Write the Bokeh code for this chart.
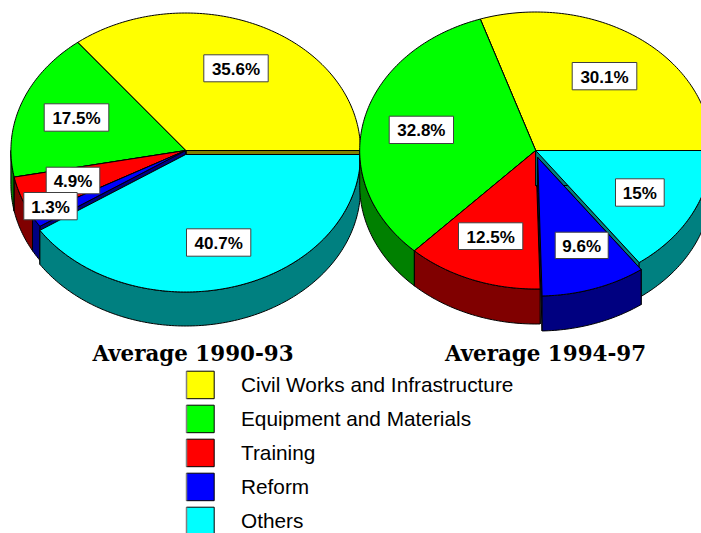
import numpy as np
from bokeh.plotting import figure
from bokeh.core.properties import value
from bokeh.embed import file_html
from bokeh.resources import INLINE

categories = ["Civil Works and Infrastructure", "Equipment and Materials", "Training", "Reform", "Others"]
top_colors = ["#FFFF00", "#00FF00", "#FF0000", "#0000FF", "#00FFFF"]
wall_colors = ["#808000", "#008000", "#800000", "#000080", "#008080"]

values_1990_93 = [35.6, 17.5, 4.9, 1.3, 40.7]
values_1994_97 = [30.1, 32.8, 12.5, 9.6, 15.0]
labels_1990_93 = ["35.6%", "17.5%", "4.9%", "1.3%", "40.7%"]
labels_1994_97 = ["30.1%", "32.8%", "12.5%", "9.6%", "15%"]
title_1990_93 = "Average 1990-93"
title_1994_97 = "Average 1994-97"

# Layout (page pixels: data units equal page pixels)
W, H = 701, 533
PIE_1 = dict(cx=185.2, cy=150.0, rx=174.8, ry=137.5, depth=34.0,
             explode={4: (0.0, 4.0)}, order=[0, 1, 2, 3, 4])
PIE_2 = dict(cx=535.2, cy=150.0, rx=176.0, ry=138.5, depth=35.0,
             explode={3: (2.0, 7.0)}, order=[0, 1, 2, 4, 3])
BOXES_1 = [(203.3, 267.7, 54.3, 81.3), (43.7, 108.3, 103.3, 130.7), (45.7, 99.3, 166.7, 193.3),
           (23.3, 76.7, 192.0, 219.3), (186.0, 250.3, 228.3, 255.7)]
BOXES_2 = [(571.7, 636.3, 62.0, 89.3), (388.7, 453.0, 115.7, 143.0), (458.0, 522.3, 222.3, 249.0),
           (554.7, 607.7, 231.7, 258.0), (615.0, 663.7, 178.3, 205.7)]

p = figure(width=W, height=H, x_range=(0, W), y_range=(H, 0),
           toolbar_location=None, output_backend="svg", min_border=0)
p.axis.visible = False
p.grid.visible = False
p.outline_line_color = None
p.background_fill_color = "white"


def arc(spec, a0, a1, dy=0.0):
    n = max(2, int(abs(a1 - a0)) + 2)
    t = np.radians(np.linspace(a0, a1, n))
    return spec["cx"] + spec["rx"] * np.cos(t), spec["cy"] - spec["ry"] * np.sin(t) + dy


def draw_pie(spec, vals):
    edges = np.concatenate([[0.0], np.cumsum(vals)]) * 360.0 / sum(vals)
    d = spec["depth"]
    for i in spec["order"]:
        a0, a1 = edges[i], edges[i + 1]
        ox, oy = spec["explode"].get(i, (0.0, 0.0))
        cx, cy = spec["cx"] + ox, spec["cy"] + oy
        # radial side faces
        for a in (a0, a1):
            ex, ey = arc(spec, a, a)
            ex, ey = ex[0] + ox, ey[0] + oy
            p.patch([cx, ex, ex, cx], [cy, ey, ey + d, cy + d],
                    fill_color=wall_colors[i], line_color="black", line_width=1)
        # outer rim, front half only
        lo, hi = max(a0, 180.0), min(a1, 360.0)
        if hi > lo:
            x, y = arc(spec, lo, hi)
            x = x + ox
            y = y + oy
            p.patch(np.concatenate([x, x[::-1]]), np.concatenate([y, (y + d)[::-1]]),
                    fill_color=wall_colors[i], line_color="black", line_width=1)
        # top face
        x, y = arc(spec, a0, a1)
        p.patch(np.concatenate([[cx], x + ox]), np.concatenate([[cy], y + oy]),
                fill_color=top_colors[i], line_color="black", line_width=1)


def draw_labels(labels, boxes):
    for lab, (l, r, t, b) in zip(labels, boxes):
        p.quad(left=[l], right=[r], top=[t], bottom=[b], fill_color="white",
               line_color="#404040", line_width=1)
        p.text(x=[(l + r) / 2], y=[(t + b) / 2 + 1], text=[lab], text_align="center",
               text_baseline="middle", text_color="black", text_font=value("Liberation Sans"),
               text_font_style="bold", text_font_size="17px")


draw_pie(PIE_1, values_1990_93)
draw_pie(PIE_2, values_1994_97)
draw_labels(labels_1990_93, BOXES_1)
draw_labels(labels_1994_97, BOXES_2)

for txt, xc in ((title_1990_93, 192.5), (title_1994_97, 545.0)):
    p.text(x=[xc], y=[353], text=[txt], text_align="center", text_baseline="middle",
           text_color="black", text_font=value("DejaVu Serif"), text_font_style="bold",
           text_font_size="21.4px")

for i, (name, col) in enumerate(zip(categories, top_colors)):
    top = 370.7 + 34 * i
    p.quad(left=[186], right=[213.7], top=[top], bottom=[top + 27.5], fill_color=col,
           line_color="black", line_width=1)
    p.segment(x0=[186], x1=[186], y0=[top], y1=[top + 27.5], line_color="#808080", line_width=1.5)
    p.text(x=[240.5], y=[top + 13.5], text=[name], text_align="left", text_baseline="middle",
           text_color="black", text_font=value("Liberation Sans"), text_font_size="20.8px")

open("out.html", "w").write(file_html(p, INLINE))
